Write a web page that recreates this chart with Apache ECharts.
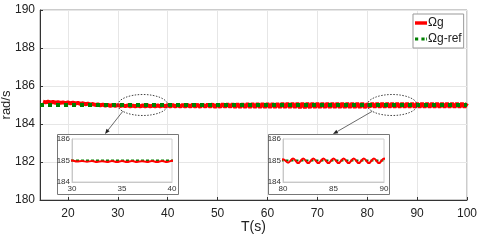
<!DOCTYPE html>
<html>
<head>
<meta charset="utf-8">
<script src="https://cdn.jsdelivr.net/npm/echarts@6/dist/echarts.min.js"></script>
<style>
  html, body { margin: 0; padding: 0; background: #fff; }
  #main { width: 480px; height: 242px; }
</style>
</head>
<body>
<div id="main"></div>
<script>
// sample times (s)
var times = [
  15, 15.5, 16, 16.5, 17, 17.5, 18, 18.5, 19, 19.5,
  20, 20.5, 21, 21.5, 22, 22.5, 23, 23.5, 24, 24.5,
  25, 25.5, 26, 26.5, 27, 27.5, 28, 28.5, 29, 29.5,
  30, 30.5, 31, 31.5, 32, 32.5, 33, 33.5, 34, 34.5,
  35, 35.5, 36, 36.5, 37, 37.5, 38, 38.5, 39, 39.5,
  40, 40.5, 41, 41.5, 42, 42.5, 43, 43.5, 44, 44.5,
  45, 45.5, 46, 46.5, 47, 47.5, 48, 48.5, 49, 49.5,
  50, 50.5, 51, 51.5, 52, 52.5, 53, 53.5, 54, 54.5,
  55, 55.5, 56, 56.5, 57, 57.5, 58, 58.5, 59, 59.5,
  60, 60.5, 61, 61.5, 62, 62.5, 63, 63.5, 64, 64.5,
  65, 65.5, 66, 66.5, 67, 67.5, 68, 68.5, 69, 69.5,
  70, 70.5, 71, 71.5, 72, 72.5, 73, 73.5, 74, 74.5,
  75, 75.5, 76, 76.5, 77, 77.5, 78, 78.5, 79, 79.5,
  80, 80.5, 81, 81.5, 82, 82.5, 83, 83.5, 84, 84.5,
  85, 85.5, 86, 86.5, 87, 87.5, 88, 88.5, 89, 89.5,
  90, 90.5, 91, 91.5, 92, 92.5, 93, 93.5, 94, 94.5,
  95, 95.5, 96, 96.5, 97, 97.5, 98, 98.5, 99, 99.5,
  100
];
// generator speed Ωg (rad/s)
var omegaG = [
  185.18, 185.14, 185.17, 185.13, 185.16, 185.12, 185.15, 185.11, 185.14, 185.10,
  185.13, 185.09, 185.12, 185.08, 185.11, 185.06, 185.09, 185.04, 185.07, 185.02,
  185.05, 185.00, 185.03, 184.98, 185.02, 184.97, 185.01, 184.96, 185.00, 184.95,
  185.00, 184.95, 184.98, 184.94, 184.98, 184.93, 184.97, 184.93, 184.98, 184.93,
  184.98, 184.93, 184.98, 184.93, 184.97, 184.93, 184.98, 184.93, 184.98, 184.93,
  184.99, 184.92, 185.00, 184.92, 185.00, 184.91, 185.01, 184.91, 185.01, 184.91,
  185.02, 184.91, 185.02, 184.90, 185.03, 184.90, 185.03, 184.90, 185.04, 184.89,
  185.04, 184.89, 185.05, 184.89, 185.05, 184.89, 185.06, 184.88, 185.06, 184.88,
  185.06, 184.88, 185.07, 184.88, 185.07, 184.88, 185.07, 184.87, 185.08, 184.87,
  185.08, 184.87, 185.08, 184.87, 185.08, 184.87, 185.09, 184.87, 185.09, 184.87,
  185.09, 184.87, 185.09, 184.86, 185.09, 184.86, 185.09, 184.86, 185.10, 184.86,
  185.10, 184.86, 185.10, 184.86, 185.10, 184.86, 185.10, 184.86, 185.10, 184.86,
  185.10, 184.86, 185.10, 184.86, 185.10, 184.86, 185.10, 184.86, 185.10, 184.86,
  185.06, 184.90, 185.09, 184.88, 185.09, 184.88, 185.09, 184.88, 185.09, 184.88,
  185.09, 184.88, 185.09, 184.88, 185.09, 184.88, 185.09, 184.88, 185.09, 184.88,
  185.09, 184.88, 185.09, 184.88, 185.09, 184.88, 185.09, 184.88, 185.09, 184.88,
  185.09, 184.88, 185.09, 184.88, 185.09, 184.88, 185.09, 184.88, 185.09, 184.88,
  185.09
];
// reference speed Ωg-ref
var refTimes = [14.4, 100];
var refValues = [185, 185];

var xTicks = [20, 30, 40, 50, 60, 70, 80, 90, 100];
var zoomRanges = [[30, 40], [80, 90]];

var font = 'Liberation Sans, Arial, sans-serif';

function pairs(xs, ys) {
  return xs.map(function (x, i) { return [x, ys[i]]; });
}
var gData = pairs(times, omegaG);
var refData = pairs(refTimes, refValues);

var chart = echarts.init(document.getElementById('main'));

// inset panels: plot area + outer frame
var insets = [
  { left: 72, top: 139, width: 100, height: 43, box: [57, 134, 121, 60] },
  { left: 283, top: 139, width: 101, height: 43, box: [268, 134, 121, 60] }
];

var grids = [{ left: 40, right: 13, top: 10, bottom: 42, containLabel: false, outerBoundsMode: 'none',
  show: true, borderColor: '#999', borderWidth: 1 }];
var xAxes = [{
  type: 'value', gridIndex: 0, min: 14.4, max: 100,
  name: 'T(s)', nameLocation: 'middle', nameGap: 20, nameMoveOverlap: false,
  nameTextStyle: { fontFamily: font, fontSize: 14, color: '#222' },
  axisLine: { lineStyle: { color: '#333' } },
  axisTick: { inside: true, length: 3, customValues: xTicks, lineStyle: { color: '#333' } },
  axisLabel: { customValues: xTicks, fontFamily: font, fontSize: 12, color: '#222', margin: 8 },
  splitLine: { show: true, lineStyle: { color: '#e6e6e6' } }
}];
var yAxes = [{
  type: 'value', gridIndex: 0, min: 180, max: 190, interval: 2,
  name: 'rad/s', nameLocation: 'middle', nameGap: 27, nameMoveOverlap: false,
  nameTextStyle: { fontFamily: font, fontSize: 13, color: '#222' },
  axisLine: { show: true, lineStyle: { color: '#333' } },
  axisTick: { inside: true, length: 3, lineStyle: { color: '#333' } },
  axisLabel: { fontFamily: font, fontSize: 12, color: '#222', margin: 5 },
  splitLine: { show: true, lineStyle: { color: '#e6e6e6' } }
}];

var series = [
  {
    name: 'Ωg', type: 'line', xAxisIndex: 0, yAxisIndex: 0, data: gData,
    showSymbol: false, symbol: 'none', z: 2,
    lineStyle: { color: '#ff0000', width: 4 }, itemStyle: { color: '#ff0000' }
  },
  {
    name: 'Ωg-ref', type: 'line', xAxisIndex: 0, yAxisIndex: 0, data: refData,
    showSymbol: false, symbol: 'none', z: 3,
    lineStyle: { color: '#008000', width: 4, type: [4, 4] }, itemStyle: { color: '#008000' }
  }
];

insets.forEach(function (ins, k) {
  var gi = k + 1;
  var r = zoomRanges[k];
  grids.push({ left: ins.left, top: ins.top, width: ins.width, height: ins.height,
    containLabel: false, outerBoundsMode: 'none',
    show: true, borderColor: '#d0d0d0', borderWidth: 1, backgroundColor: '#fff', z: 6 });
  xAxes.push({
    type: 'value', gridIndex: gi, min: r[0], max: r[1], interval: 5, z: 7,
    axisLine: { lineStyle: { color: '#c8c8c8' } },
    axisTick: { show: false },
    axisLabel: { fontFamily: font, fontSize: 8, color: '#333', margin: 3 },
    splitLine: { show: false }
  });
  yAxes.push({
    type: 'value', gridIndex: gi, min: 184, max: 186, interval: 1, z: 7,
    axisLine: { show: true, lineStyle: { color: '#c8c8c8' } },
    axisTick: { show: false },
    axisLabel: { fontFamily: font, fontSize: 8, color: '#333', margin: 2 },
    splitLine: { show: false }
  });
  series.push({
    name: 'ref-zoom' + gi, type: 'line', xAxisIndex: gi, yAxisIndex: gi, data: refData,
    showSymbol: false, symbol: 'none', z: 10, clip: true,
    lineStyle: { color: '#008000', width: 2, type: [3, 2] }
  });
  series.push({
    name: 'g-zoom' + gi, type: 'line', xAxisIndex: gi, yAxisIndex: gi, data: gData,
    showSymbol: false, symbol: 'none', z: 11, clip: true, smooth: 0.4,
    lineStyle: { color: '#ff0000', width: 2 }
  });
});

chart.setOption({
  animation: false,
  backgroundColor: '#fff',
  textStyle: { fontFamily: font },
  legend: {
    data: [
      { name: 'Ωg', icon: 'path://M0,0H14V4H0Z', itemStyle: { color: '#ff0000' } },
      { name: 'Ωg-ref', icon: 'path://M0,0H4V4H0Z M8,0H12V4H8Z M14,0H15V4H14Z', itemStyle: { color: '#008000' } }
    ],
    orient: 'vertical', left: 413, top: 14,
    backgroundColor: '#fff', borderColor: '#999', borderWidth: 1,
    padding: [3, 2, 3, 2], itemGap: 4, itemWidth: 12, itemHeight: 4,
    textStyle: { fontFamily: font, fontSize: 12, color: '#222', padding: [0, 0, 0, -4] }
  },
  grid: grids,
  xAxis: xAxes,
  yAxis: yAxes,
  series: series
});

// callouts: dotted ellipses around the zoomed ranges, arrows to the inset panels
var graphics = [];
insets.forEach(function (ins, k) {
  var r = zoomRanges[k];
  var c = chart.convertToPixel({ gridIndex: 0 }, [(r[0] + r[1]) / 2, 185]);
  var e = chart.convertToPixel({ gridIndex: 0 }, [r[1], 185]);
  var rx = e[0] - c[0], ry = 10.5;
  graphics.push({
    type: 'rect', z: 5, silent: true,
    shape: { x: ins.box[0] + 0.5, y: ins.box[1] + 0.5, width: ins.box[2], height: ins.box[3] },
    style: { fill: '#fff', stroke: '#777', lineWidth: 1 }
  });
  graphics.push({
    type: 'ellipse', z: 20, silent: true,
    shape: { cx: c[0], cy: c[1], rx: rx, ry: ry },
    style: { fill: null, stroke: '#444', lineWidth: 1, lineDash: [1.5, 1.5] }
  });
  var sx = c[0] - rx * 0.8, sy = c[1] + ry * 0.6;
  var tx = k === 0 ? 105 : 333, ty = ins.box[1];
  var ang = Math.atan2(ty - sy, tx - sx);
  var L = 5, W = 2;
  var bx = tx - L * Math.cos(ang), by = ty - L * Math.sin(ang);
  graphics.push({
    type: 'line', z: 20, silent: true,
    shape: { x1: sx, y1: sy, x2: bx, y2: by },
    style: { stroke: '#444', lineWidth: 0.8 }
  });
  graphics.push({
    type: 'polygon', z: 20, silent: true,
    shape: { points: [[tx, ty],
      [bx + W * Math.sin(ang), by - W * Math.cos(ang)],
      [bx - W * Math.sin(ang), by + W * Math.cos(ang)]] },
    style: { fill: '#222' }
  });
});
chart.setOption({ graphic: graphics });
</script>
</body>
</html>
